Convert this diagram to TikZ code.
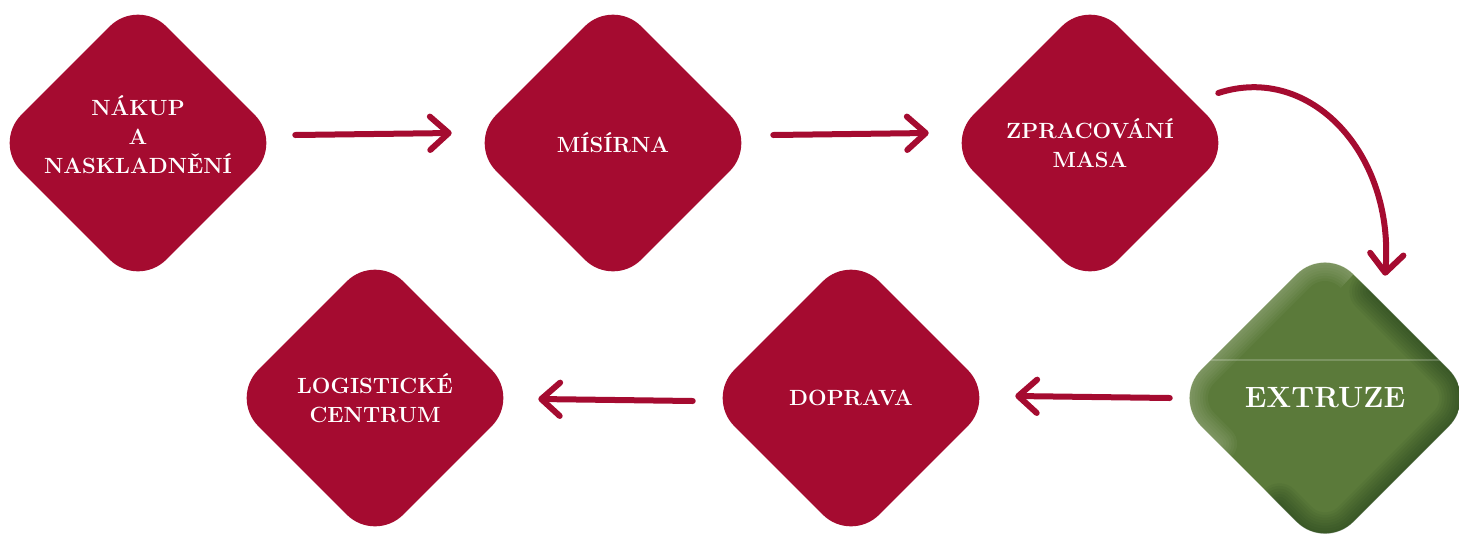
\documentclass[tikz,border=0pt]{standalone}
\usepackage{tikz}
\usetikzlibrary{shapes.geometric,arrows.meta,calc}

\definecolor{wine}{HTML}{A50B30}
\definecolor{extgreen}{HTML}{5B7A3A}
\definecolor{extdark}{HTML}{1E3C1A}
\definecolor{extlight}{HTML}{B5C2A0}

\tikzset{
  stage/.style={diamond, aspect=1, fill=wine, text=white, rounded corners=30pt,
    minimum width=217.5pt, minimum height=217.5pt, inner sep=0pt, align=center,
    font=\fontsize{16.5}{21.5}\selectfont\bfseries},
  flow/.style={draw=wine, line width=4.5pt, line cap=round, line join=round,
    -{Straight Barb[length=14pt,width=25pt,round]}},
  bevel/.style={line width=#1, rounded corners=30pt, line cap=round}
}

\begin{document}
\begin{tikzpicture}[x=0.75pt,y=0.75pt,yscale=-1,xscale=1]
\useasboundingbox (0,0) rectangle (1459,533);

% Top row
\node[stage] (nakup) at (138,143) {NÁKUP\\A\\NASKLADNĚNÍ\\[-9pt]\mbox{}};
\node[stage] (misirna) at (613,143) {MÍSÍRNA};
\node[stage] (zprac) at (1090,143) {ZPRACOVÁNÍ\\MASA};

% Bottom row
\node[stage, fill=extgreen, minimum width=228pt, minimum height=228pt] (extruze) at (1325,398) {};
\node[stage] (doprava) at (851,398) {DOPRAVA};
\node[stage] (logist) at (375,398) {LOGISTICKÉ\\CENTRUM};

% Bevel of the green one
\begin{scope}
\clip[rounded corners=30pt] (extruze.north) -- (extruze.east) -- (extruze.south) -- (extruze.west) -- cycle;
\foreach \w in {4,8,...,28}
  \draw[extlight, opacity=0.07, bevel=\w pt] ($(extruze.south west)!0.4!(extruze.west)$) -- (extruze.west) -- (extruze.north) -- ($(extruze.north)!0.35!(extruze.north east)$);
\foreach \w in {4,8,...,32}
  \draw[extdark, opacity=0.08, bevel=\w pt] ($(extruze.north)!0.6!(extruze.north east)$) -- (extruze.east) -- (extruze.south) -- ($(extruze.south)!0.6!(extruze.south west)$);
\draw[white, opacity=0.2, line width=0.8pt] (1150,360) -- (1470,360);
\end{scope}
\node[text=white, font=\fontsize{22}{26}\selectfont\bfseries] (extlabel) at (extruze) {EXTRUZE};

% Arrows
\draw[flow] ($(nakup.east)+(12,-8)$) -- ($(misirna.west)+(-16,-10)$);
\draw[flow] ($(misirna.east)+(15,-8)$) -- ($(zprac.west)+(-16,-10)$);
\draw[flow] ($(zprac.east)+(-17,-50)$) .. controls +(92,-30) and +(10,-122) .. ($(extruze.north)+(60,30)$);
\draw[flow] ($(extruze.west)+(-3,0)$) -- ($(doprava.east)+(19,-2)$);
\draw[flow] ($(doprava.west)+(-13,3)$) -- ($(logist.east)+(18,1)$);
\end{tikzpicture}
\end{document}
